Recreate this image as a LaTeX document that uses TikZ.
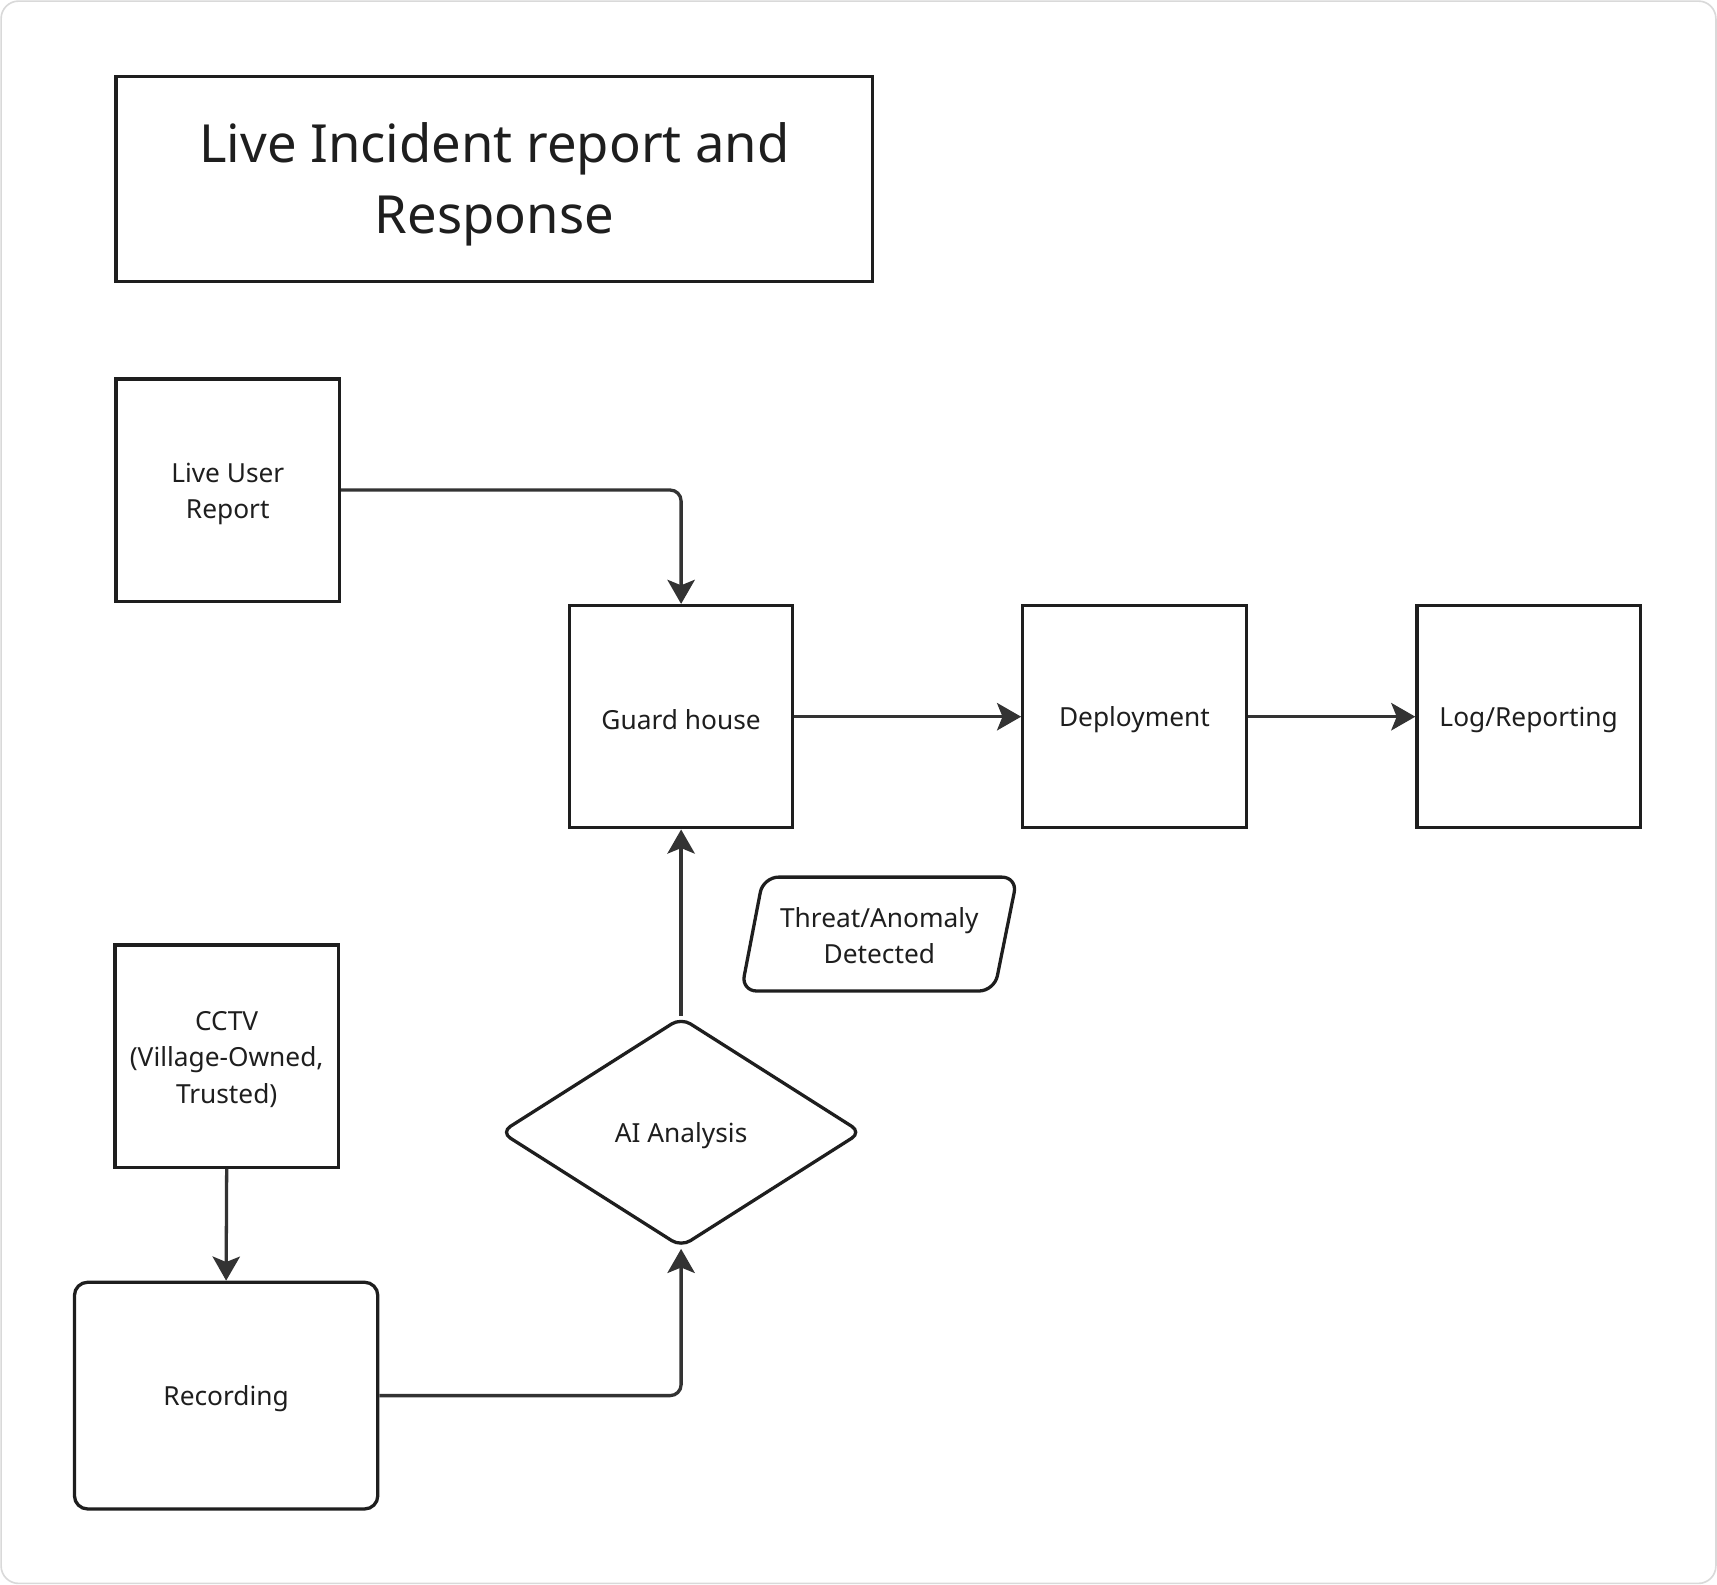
\documentclass[tikz,border=0pt]{standalone}
\usepackage{fontspec}
\setmainfont{Noto Sans}
\usetikzlibrary{arrows.meta,shapes.geometric,calc}
\definecolor{ink}{HTML}{1E1E1E}
\definecolor{arrowc}{HTML}{333333}
\definecolor{frame}{HTML}{D9D9D9}
\begin{document}
\begin{tikzpicture}[x=1pt,y=-1pt,
  box/.style={draw=ink,line width=3pt,rectangle,minimum width=204pt,minimum height=203pt,inner sep=0pt},
  txt/.style={inner sep=0pt,align=center,text=ink,font=\fontsize{24}{33.5}\selectfont},
  conn/.style={draw=arrowc,line width=3pt,-{Stealth[length=22pt,width=25pt,inset=5pt]},rounded corners=10pt}]
\useasboundingbox (0,0) rectangle (1568,1447);
\draw[frame,line width=1.5pt,rounded corners=16pt] (1,1) rectangle (1567,1446);
% title
\node[draw=ink,line width=3pt,rectangle,minimum width=691pt,minimum height=187pt,inner sep=0pt] (title) at (451.5,163.5) {};
\node[inner sep=0pt,align=center,text=ink,font=\fontsize{48}{65}\selectfont] (titletext) at ($(title)+(0,5)$) {Live Incident report and\\Response};
% boxes
\node[box] (lur) at (208,447.5) {};
\node[txt] (lurt) at ($(lur)+(0,3.5)$) {Live User\\Report};
\node[box] (gh) at (622,654.5) {};
\node[txt] (ght) at ($(gh)+(0,3)$) {Guard house};
\node[box] (dep) at (1036,654.5) {};
\node[txt] (dept) at ($(dep)+(0,3)$) {Deployment};
\node[box] (log) at (1396,654.5) {};
\node[txt] (logt) at ($(log)+(0,3)$) {Log/Reporting};
\node[box] (cctv) at (207,964.5) {};
\node[txt] (cctvt) at ($(cctv)+(0,3)$) {CCTV\\(Village-Owned,\\Trusted)};
\node[box,minimum width=277pt,minimum height=207pt,rounded corners=12pt] (rec) at (206.5,1274.5) {};
\node[txt] (rect) at ($(rec)+(0,3)$) {Recording};
% diamond
\node[draw=ink,line width=3pt,diamond,aspect=1.571,minimum width=330pt,minimum height=210pt,inner sep=0pt,rounded corners=10pt] (ai) at (622,1034) {};
\node[txt] (ait) at ($(ai)+(0,3)$) {AI Analysis};
% parallelogram
\node[txt] (threat) at (803,854.5) {Threat/Anomaly\\Detected};
\draw[ink,line width=3pt,rounded corners=14pt] (697,801) -- (929,801) -- (908,905) -- (677,905) -- cycle;
% connectors
\draw[conn] (lur.east) -| (gh.north);
\draw[conn] (gh.east) -- (dep.west);
\draw[conn] (dep.east) -- (log.west);
\draw[conn] (ai.north) -- (gh.south);
\draw[conn] (cctv.south) -- (rec.north);
\draw[conn] (rec.east) -| (ai.south);
\end{tikzpicture}
\end{document}
